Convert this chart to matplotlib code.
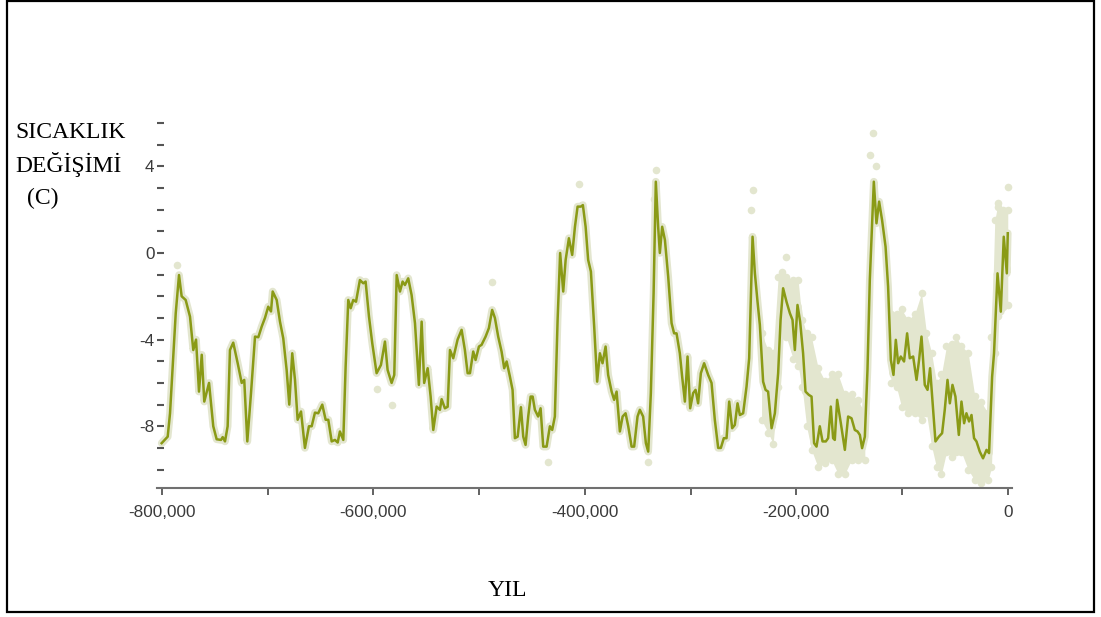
import numpy as np
import matplotlib
matplotlib.use("Agg")
import matplotlib.pyplot as plt
from matplotlib.patches import Rectangle
from matplotlib.ticker import MultipleLocator, FuncFormatter

# ---- data (years in thousands, temperature change in C) ----
line_years = [-800.3, -794.6, -792.4, -789.3, -787.0, -783.9, -781.4, -777.6, -773.5, -770.4,
              -767.8, -765.0, -762.4, -760.0, -755.5, -751.5, -748.3, -744.2, -742.6, -740.4,
              -737.9, -735.7, -732.6, -728.4, -724.6, -722.2, -719.3, -715.8, -712.0, -708.9,
              -705.7, -702.6, -699.5, -696.9, -695.3, -691.5, -688.4, -685.3, -682.1, -679.6,
              -676.8, -674.2, -671.7, -668.5, -664.8, -661.0, -658.4, -655.3, -652.2, -648.4,
              -645.2, -642.7, -639.5, -636.4, -633.8, -631.7, -628.5, -626.3, -623.8, -621.5,
              -619.1, -616.5, -612.8, -609.6, -607.4, -604.2, -601.1, -597.0, -592.9, -589.1,
              -586.6, -582.8, -580.3, -578.0, -574.9, -572.4, -570.2, -567.1, -563.9, -560.7,
              -557.0, -554.4, -552.0, -548.7, -545.9, -543.4, -540.2, -537.1, -535.5, -532.4,
              -529.8, -527.6, -524.5, -520.4, -516.6, -513.5, -510.9, -508.7, -505.6, -503.4,
              -500.2, -497.7, -493.9, -490.8, -487.7, -485.1, -482.0, -478.8, -476.3, -474.0,
              -470.9, -468.4, -466.2, -463.6, -460.5, -458.3, -456.1, -453.6, -451.3, -449.4,
              -447.3, -444.2, -441.9, -439.4, -436.2, -433.1, -430.9, -428.4, -425.8, -423.4,
              -420.5, -418.2, -415.1, -412.0, -409.4, -406.9, -403.8, -401.9, -399.3, -396.9,
              -394.3, -391.2, -388.4, -385.8, -383.3, -380.4, -378.0, -374.7, -372.3, -370.0,
              -366.9, -364.3, -361.5, -359.0, -355.8, -353.4, -350.2, -348.0, -344.9, -342.3,
              -340.1, -337.6, -335.0, -332.9, -330.7, -329.1, -326.9, -324.3, -321.2, -318.0,
              -315.6, -313.3, -310.2, -308.0, -305.4, -302.9, -300.4, -297.6, -295.3, -292.9,
              -290.3, -287.2, -283.4, -280.2, -277.1, -273.9, -271.4, -268.6, -266.0, -263.5,
              -260.7, -258.2, -255.6, -253.4, -250.3, -247.1, -244.6, -241.4, -239.2, -236.7,
              -234.5, -231.4, -229.1, -226.7, -223.4, -220.3, -217.2, -214.9, -212.5, -209.3,
              -206.1, -203.6, -201.4, -198.9, -196.4, -193.6, -191.3, -188.2, -185.6, -183.2,
              -180.9, -177.8, -175.2, -172.1, -169.9, -167.4, -165.2, -163.6, -161.4, -157.9,
              -154.1, -151.0, -147.8, -144.7, -142.1, -139.9, -137.8, -135.2, -132.7, -130.5,
              -126.7, -124.2, -121.7, -118.9, -115.6, -113.2, -110.6, -108.1, -105.9, -103.7,
              -101.2, -98.1, -95.2, -92.7, -89.5, -86.3, -83.9, -81.6, -78.5, -75.9,
              -73.5, -70.6, -68.4, -65.2, -62.1, -59.6, -57.0, -54.8, -52.3, -49.5,
              -46.3, -43.8, -41.3, -39.1, -36.6, -34.3, -31.9, -29.6, -26.5, -23.4,
              -20.1, -17.7, -14.8, -13.0, -9.7, -6.6, -3.8, -0.9, 0.0]
line_temps = [-8.78, -8.48, -7.40, -4.78, -2.78, -1.02, -2.00, -2.17, -2.94, -4.48,
              -4.00, -6.40, -4.70, -6.86, -6.00, -8.00, -8.60, -8.63, -8.50, -8.70,
              -8.00, -4.48, -4.14, -5.09, -6.00, -5.86, -8.70, -6.47, -3.86, -3.89,
              -3.40, -3.00, -2.48, -2.70, -1.78, -2.17, -3.17, -3.94, -5.40, -7.00,
              -4.63, -5.86, -7.70, -7.32, -9.00, -8.00, -8.00, -7.37, -7.40, -7.00,
              -7.70, -7.70, -8.70, -8.63, -8.75, -8.24, -8.63, -5.25, -2.17, -2.55,
              -2.17, -2.25, -1.25, -1.40, -1.32, -2.94, -4.17, -5.55, -5.17, -4.09,
              -5.40, -6.00, -5.63, -1.02, -1.78, -1.32, -1.48, -1.17, -1.94, -3.24,
              -6.09, -3.17, -6.00, -5.32, -6.63, -8.17, -7.09, -7.24, -6.75, -7.17,
              -7.10, -4.48, -4.86, -4.00, -3.55, -4.48, -5.55, -5.55, -4.55, -4.94,
              -4.32, -4.24, -3.86, -3.47, -2.63, -3.00, -3.86, -4.55, -5.32, -5.01,
              -5.71, -6.32, -8.55, -8.48, -7.12, -8.48, -8.86, -7.55, -6.63, -6.63,
              -7.24, -7.55, -7.17, -8.94, -8.94, -8.00, -8.17, -7.55, -3.09, 0.00,
              -1.78, -0.32, 0.68, -0.09, 1.21, 2.14, 2.14, 2.21, 1.21, -0.32,
              -0.86, -3.40, -5.94, -4.63, -5.09, -4.32, -5.63, -6.40, -6.78, -6.40,
              -8.24, -7.55, -7.40, -8.00, -8.94, -8.94, -7.55, -7.24, -7.55, -8.78,
              -9.17, -6.47, -1.86, 3.29, 1.21, 0.00, 1.21, 0.60, -1.09, -3.24,
              -3.71, -3.71, -4.63, -5.71, -6.86, -4.78, -7.17, -6.47, -6.32, -6.94,
              -5.55, -5.09, -5.63, -6.00, -7.70, -9.00, -9.00, -8.55, -8.55, -6.86,
              -8.09, -7.94, -6.94, -7.48, -7.40, -6.17, -4.86, 0.75, -0.94, -2.25,
              -3.32, -5.94, -6.32, -6.40, -8.09, -7.40, -5.55, -3.09, -1.63, -2.25,
              -2.78, -3.09, -4.48, -2.40, -3.17, -4.63, -6.40, -6.55, -6.63, -8.78,
              -8.94, -8.00, -8.70, -8.70, -8.55, -7.09, -8.55, -8.63, -6.78, -7.86,
              -9.09, -7.55, -7.63, -8.17, -8.24, -8.40, -9.01, -8.48, -5.40, -1.25,
              3.29, 1.37, 2.37, 1.52, 0.29, -1.55, -4.94, -5.63, -4.01, -5.09,
              -4.78, -5.01, -3.71, -4.86, -4.78, -5.86, -4.94, -3.86, -6.09, -6.32,
              -5.32, -7.24, -8.70, -8.48, -8.32, -7.24, -5.86, -6.94, -6.09, -6.63,
              -8.40, -6.86, -7.86, -7.40, -7.78, -7.48, -8.55, -8.70, -9.17, -9.48,
              -9.09, -9.24, -5.71, -4.63, -0.94, -2.71, 0.75, -0.94, 0.91]

# spread of the raw measurements (upper / lower edge) where it is wide
spread_a_years = [-232.9, -226.7, -221.9, -217.2, -214.0, -209.3, -203.0, -198.3, -194.5, -190.3,
                  -185.6, -179.4, -173.0, -166.7, -160.5, -154.1, -147.8, -141.6, -135.2]
spread_a_hi = [-3.7, -4.5, -4.6, -1.1, -0.86, -1.1, -1.25, -1.25, -3.1, -3.7,
               -3.9, -5.3, -5.9, -5.6, -5.6, -6.5, -6.5, -6.8, -7.4]
spread_a_lo = [-7.7, -8.3, -8.8, -6.2, -3.7, -3.9, -4.9, -5.2, -6.2, -8.0,
               -9.1, -9.9, -9.7, -9.55, -10.2, -10.2, -9.55, -9.55, -9.55]
spread_b_years = [-110.6, -105.2, -100.5, -94.3, -87.9, -81.6, -76.9, -72.1, -67.4, -62.7,
                  -58.0, -53.2, -48.5, -43.8, -37.5, -31.2, -24.9, -18.6, -15.4, -12.3,
                  -9.2, -4.4, 0.0]
spread_b_hi = [-2.8, -2.8, -2.6, -3.1, -2.8, -1.86, -3.7, -4.6, -6.0, -5.6,
               -4.3, -4.2, -3.9, -4.3, -4.6, -6.6, -6.9, -7.4, -3.9, 1.5,
               2.3, 2.0, 2.0]
spread_b_lo = [-6.0, -6.2, -7.1, -7.4, -7.4, -7.7, -7.4, -8.9, -9.9, -10.2,
               -9.2, -9.4, -9.2, -9.2, -10.0, -10.5, -10.6, -10.5, -9.9, -4.6,
               -2.9, -2.5, -2.4]
# individual outlying measurements
dot_years = [-785.5, -487.7, -405.7, -332.9, -241.4, -209.3, -127.4, -9.7, 0.0,
             -435.3, -340.1, -597.0, -582.8, -130.0, -125.0, -243.0, -335.0]
dot_temps = [-0.55, -1.32, 3.2, 3.83, 2.9, -0.17, 5.52, 2.14, 3.06,
             -9.63, -9.63, -6.3, -7.0, 4.5, 4.0, 2.0, 2.5]

x_ticks = [-800, -600, -400, -200, 0]
y_ticks = [-8, -4, 0, 4]

LINE = "#8a9a16"
DOT = "#e3e6cf"

W, H = 1101, 617
fig = plt.figure(figsize=(W / 100, H / 100), dpi=100)
fig.patch.set_facecolor("white")

ax = fig.add_axes([156.7 / W, 1 - 488 / H, (1012 - 156.7) / W, (488 - 123) / H])
ax.set_xlim(-805, 4)
ax.set_ylim(-10.85, 6.0)

# raw measurement spread
for yrs, hi, lo in [(spread_a_years, spread_a_hi, spread_a_lo),
                    (spread_b_years, spread_b_hi, spread_b_lo)]:
    ax.fill_between(yrs, lo, hi, color=DOT, lw=0, zorder=1)
    ax.scatter(yrs, hi, s=30, color=DOT, lw=0, zorder=1)
    ax.scatter(yrs, lo, s=30, color=DOT, lw=0, zorder=1)
ax.scatter(dot_years, dot_temps, s=30, color=DOT, lw=0, zorder=1)
ax.plot(line_years, line_temps, color=DOT, lw=5.5, solid_joinstyle="round",
        solid_capstyle="round", zorder=2)
ax.plot(line_years, line_temps, color=LINE, lw=1.8, solid_joinstyle="round", zorder=3)

for s in ["top", "right", "left"]:
    ax.spines[s].set_visible(False)
ax.spines["bottom"].set_color("#707070")
ax.spines["bottom"].set_linewidth(1.5)

ax.xaxis.set_major_locator(matplotlib.ticker.FixedLocator(x_ticks))
ax.xaxis.set_minor_locator(MultipleLocator(100))
ax.xaxis.set_major_formatter(FuncFormatter(lambda v, p: f"{int(round(v * 1000)):,}"))
ax.yaxis.set_major_locator(matplotlib.ticker.FixedLocator(y_ticks))
ax.yaxis.set_minor_locator(MultipleLocator(1))
ax.yaxis.set_major_formatter(FuncFormatter(lambda v, p: f"{int(v)}"))

ax.tick_params(axis="x", which="both", direction="out", length=5, width=1.3,
               color="#555555", labelsize=12.3, labelcolor="#3a3a3a", pad=7)
ax.tick_params(axis="y", which="both", direction="in", length=5, width=1.5,
               color="#555555", labelsize=12.3, labelcolor="#3a3a3a", pad=1.5)
for lab in ax.get_xticklabels() + ax.get_yticklabels():
    lab.set_fontfamily("Liberation Sans")

serif = "Liberation Serif"
fig.text(15 / W, 1 - 138 / H, "SICAKLIK", family=serif, fontsize=17, color="black",
         ha="left", va="baseline")
fig.text(15 / W, 1 - 172 / H, "DEĞİŞİMİ", family=serif, fontsize=17, color="black",
         ha="left", va="baseline")
fig.text(27 / W, 1 - 204 / H, "(C)", family=serif, fontsize=17, color="black",
         ha="left", va="baseline")
fig.text(507 / W, 1 - 596 / H, "YIL", family=serif, fontsize=17, color="black",
         ha="center", va="baseline")

fig.patches.append(Rectangle((7 / W, (H - 612) / H), (1094 - 7) / W, (612 - 1) / H,
                             transform=fig.transFigure, fill=False, edgecolor="black",
                             lw=1.6, zorder=10))

fig.savefig("out.png", dpi=100)
